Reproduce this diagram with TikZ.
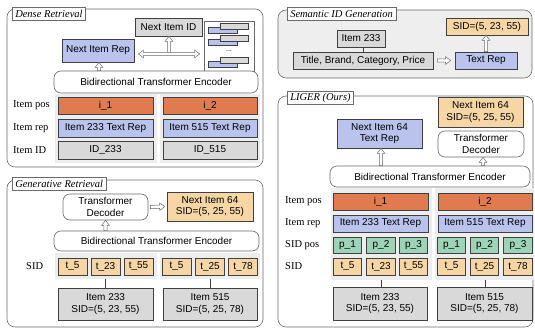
\documentclass[tikz,border=0pt]{standalone}
\usepackage{fontspec}
\setmainfont{Liberation Serif}
\setsansfont{Liberation Sans}
\usetikzlibrary{arrows.meta,calc}
\definecolor{posc}{HTML}{E07A4F}
\definecolor{repc}{HTML}{B9C3EE}
\definecolor{spc}{HTML}{9DD3B6}
\definecolor{sidc}{HTML}{F5D6A4}
\definecolor{idc}{HTML}{D9D9D9}
\definecolor{grpc}{HTML}{EDEDED}
\definecolor{panelfill}{HTML}{EEEEEE}
\definecolor{frame}{HTML}{6A6A6A}
\definecolor{edge}{HTML}{404040}
\tikzset{
  sz/.style 2 args={minimum width=#1, minimum height=#2},
  panel/.style={draw=frame, line width=0.6pt, rounded corners=8pt, inner sep=0pt},
  tag/.style={draw=frame, fill=white, line width=0.5pt, anchor=north west,
    font=\rmfamily\itshape\fontsize{10.5}{12}\selectfont, inner xsep=3pt, inner ysep=0pt, minimum height=13},
  blk/.style={draw=edge, line width=0.7pt, inner sep=0pt, align=center,
    font=\sffamily\fontsize{10}{11.5}\selectfont},
  rnd/.style={draw=frame, line width=0.6pt, fill=white, rounded corners=7pt, inner sep=0pt,
    align=center, font=\sffamily\fontsize{10}{11.5}\selectfont},
  grp/.style={fill=grpc, draw=none, inner sep=0pt},
  rowlab/.style={font=\rmfamily\fontsize{10.5}{12}\selectfont, anchor=west, inner sep=0pt},
  holshape/.style={draw=frame, line width=0.5pt, fill=white, line join=miter},
  tie/.style={draw=edge, line width=0.6pt},
}
% hollow block arrow from #1 to #2 (shaft half-width 1.6pt, head 3.8pt x 5pt)
\newcommand\holarrow[2]{%
  \coordinate (hh) at ($(#2)!5pt!(#1)$);
  \draw[holshape] ($(#1)!1.6pt!90:(#2)$) -- ($(hh)!1.6pt!-90:(#1)$) -- ($(hh)!3.8pt!-90:(#1)$)
    -- (#2) -- ($(hh)!3.8pt!90:(#1)$) -- ($(hh)!1.6pt!90:(#1)$) -- ($(#1)!1.6pt!-90:(#2)$) -- cycle;}
% hollow block arrow with heads at both ends
\newcommand\holboth[2]{%
  \coordinate (hh) at ($(#2)!5pt!(#1)$);
  \coordinate (ht) at ($(#1)!5pt!(#2)$);
  \draw[holshape] (#1) -- ($(ht)!3.8pt!90:(#2)$) -- ($(ht)!1.6pt!90:(#2)$)
    -- ($(hh)!1.6pt!-90:(#1)$) -- ($(hh)!3.8pt!-90:(#1)$) -- (#2)
    -- ($(hh)!3.8pt!90:(#1)$) -- ($(hh)!1.6pt!90:(#1)$)
    -- ($(ht)!1.6pt!-90:(#2)$) -- ($(ht)!3.8pt!-90:(#2)$) -- cycle;}
\begin{document}
\begin{tikzpicture}[x=1pt,y=-1pt]
\useasboundingbox (0,0) rectangle (535,329);

% ---------------- Dense Retrieval ----------------
\node[panel, sz={256}{158}] (dense) at (135,88) {};
\node[tag] (tdense) at (12,7) {Dense Retrieval};

\node[grp, sz={102}{69}] (dgl) at (106,128.5) {};
\node[grp, sz={100}{69}] (dgr) at (210,128.5) {};

\node[blk, fill=repc, sz={72}{23}] (dnir) at (98,50.5) {Next Item Rep};
\node[blk, fill=idc, sz={67}{18}] (dnid) at (168.5,27) {Next Item ID};
\node[draw=frame, line width=0.6pt, fill=white, sz={50}{50}, inner sep=0pt] (dcand) at (229,46) {};
\foreach \yy in {27,39,61} {
  \draw[draw=edge, line width=0.5pt, fill=repc] (208,\yy) rectangle (237,\yy+6);
  \draw[draw=edge, line width=0.5pt, fill=idc] (220,\yy-4) rectangle (248,\yy+2);
}
\node[font=\sffamily\scriptsize, inner sep=0pt] (ddots) at (229,51) {...};

\node[rnd, sz={204}{22}] (denc) at (156,82) {Bidirectional Transformer Encoder};

\node[blk, fill=posc, sz={95}{17}] (dp1) at (105.5,105.5) {i\_1};
\node[blk, fill=posc, sz={94}{17}] (dp2) at (210,105.5) {i\_2};
\node[blk, fill=repc, sz={95}{18}] (dr1) at (105.5,128) {Item 233 Text Rep};
\node[blk, fill=repc, sz={94}{18}] (dr2) at (210,128) {Item 515 Text Rep};
\node[blk, fill=idc, sz={95}{18}] (di1) at (105.5,150) {ID\_233};
\node[blk, fill=idc, sz={94}{18}] (di2) at (210,150) {ID\_515};

\node[rowlab] (dl1) at (13,105.5) {Item pos};
\node[rowlab] (dl2) at (13,128) {Item rep};
\node[rowlab] (dl3) at (13,150) {Item ID};

\coordinate (dda) at ([xshift=4pt,yshift=-3.5pt]dnir.east);
\coordinate (ddb) at ([xshift=-4pt,yshift=-8pt]dcand.west);
\coordinate (dmid) at (169,52.4);
\coordinate (dnidb) at (dmid |- dnid.south);
\holarrow{dmid}{dnidb}
\holboth{dda}{ddb}
\coordinate (dea) at (denc.north -| 99,0);
\coordinate (deb) at (dnir.south -| 99,0);
\holarrow{dea}{deb}

% ---------------- Generative Retrieval ----------------
\node[panel, sz={256}{147}] (gen) at (135,253.5) {};
\node[tag] (tgen) at (12,177) {Generative Retrieval};

\node[grp, sz={102}{26}] (ggl) at (106,266) {};
\node[grp, sz={100}{26}] (ggr) at (210,266) {};

\node[rnd, sz={85}{26}] (gdec) at (105.5,207) {Transformer\\Decoder};
\node[blk, fill=sidc, sz={86}{29}] (gnext) at (210,206.5) {Next Item 64\\SID=(5, 25, 55)};
\node[rnd, sz={205}{20}] (genc) at (156.5,241) {Bidirectional Transformer Encoder};

\node[blk, fill=sidc, sz={29}{17}] (gt1) at (72.5,266.5) {t\_5};
\node[blk, fill=sidc, sz={29}{17}] (gt2) at (105.5,266.5) {t\_23};
\node[blk, fill=sidc, sz={29}{17}] (gt3) at (138.5,266.5) {t\_55};
\node[blk, fill=sidc, sz={29}{17}] (gt4) at (176.5,266.5) {t\_5};
\node[blk, fill=sidc, sz={29}{17}] (gt5) at (210,266.5) {t\_25};
\node[blk, fill=sidc, sz={29}{17}] (gt6) at (243,266.5) {t\_78};
\node[rowlab] (gl1) at (26,266.5) {SID};

\node[blk, fill=idc, sz={95}{32}] (gi1) at (105.5,304) {Item 233\\SID=(5, 23, 55)};
\node[blk, fill=idc, sz={94}{32}] (gi2) at (210,304) {Item 515\\SID=(5, 25, 78)};

\draw[tie] (ggl.south -| gi1.north) -- (gi1.north);
\draw[tie] (ggr.south -| gi2.north) -- (gi2.north);
\coordinate (gda) at ([xshift=2pt]gdec.east);
\coordinate (gdb) at ([xshift=-2pt]gnext.west);
\holarrow{gda}{gdb}
\coordinate (gea) at (genc.north -| gdec.south);
\holarrow{gea}{gdec.south}

% ---------------- Semantic ID Generation ----------------
\node[panel, fill=panelfill, sz={254}{68}] (sem) at (405,44) {};
\node[tag] (tsem) at (287,7) {Semantic ID Generation};

\node[blk, fill=idc, sz={48}{17}] (sitem) at (361,38.5) {Item 233};
\node[blk, fill=idc, sz={140}{17}] (sattr) at (363,60.5) {Title, Brand, Category, Price};
\node[blk, fill=repc, sz={62}{17}] (strep) at (486,60.5) {Text Rep};
\node[blk, fill=sidc, sz={82}{17}] (ssid) at (487,26.5) {SID=(5, 23, 55)};

\draw[tie] (sattr.north) -- (sattr.north |- sitem.south);
\coordinate (saa) at ([xshift=4pt]sattr.east);
\coordinate (sab) at ([xshift=-4pt]strep.west);
\holarrow{saa}{sab}
\coordinate (ssb) at (strep.north |- ssid.south);
\holarrow{strep.north}{ssb}

% ---------------- LIGER ----------------
\node[panel, sz={255}{231}] (lig) at (405.5,211.5) {};
\node[tag] (tlig) at (287,91) {LIGER (Ours)};

\node[grp, sz={101}{92}] (lgl) at (381.5,234) {};
\node[grp, sz={99}{92}] (lgr) at (484.5,234) {};

\node[blk, fill=repc, sz={85}{29}] (lntr) at (379.5,133.5) {Next Item 64\\Text Rep};
\node[blk, fill=sidc, sz={85}{30}] (lnsid) at (480.5,112) {Next Item 64\\SID=(5, 25, 55)};
\node[rnd, sz={86}{26}] (ldec) at (481,144) {Transformer\\Decoder};
\node[rnd, sz={200}{21}] (lenc) at (430,176.5) {Bidirectional Transformer Encoder};

\node[blk, fill=posc, sz={95}{17}] (lp1) at (380.5,201.5) {i\_1};
\node[blk, fill=posc, sz={94}{17}] (lp2) at (485,201.5) {i\_2};
\node[blk, fill=repc, sz={95}{17}] (lr1) at (380.5,223.5) {Item 233 Text Rep};
\node[blk, fill=repc, sz={94}{17}] (lr2) at (485,223.5) {Item 515 Text Rep};

\node[blk, fill=spc, sz={28.5}{16}] (ls1) at (347.5,245.5) {p\_1};
\node[blk, fill=spc, sz={28.5}{16}] (ls2) at (381,245.5) {p\_2};
\node[blk, fill=spc, sz={28.5}{16}] (ls3) at (413.5,245.5) {p\_3};
\node[blk, fill=spc, sz={28.5}{16}] (ls4) at (451.5,245.5) {p\_1};
\node[blk, fill=spc, sz={28.5}{16}] (ls5) at (484.5,245.5) {p\_2};
\node[blk, fill=spc, sz={28.5}{16}] (ls6) at (518,245.5) {p\_3};

\node[blk, fill=sidc, sz={28.5}{17}] (lt1) at (347.5,266.5) {t\_5};
\node[blk, fill=sidc, sz={28.5}{17}] (lt2) at (381,266.5) {t\_23};
\node[blk, fill=sidc, sz={28.5}{17}] (lt3) at (413.5,266.5) {t\_55};
\node[blk, fill=sidc, sz={28.5}{17}] (lt4) at (451.5,266.5) {t\_5};
\node[blk, fill=sidc, sz={28.5}{17}] (lt5) at (484.5,266.5) {t\_25};
\node[blk, fill=sidc, sz={28.5}{17}] (lt6) at (518,266.5) {t\_78};

\node[rowlab] (ll1) at (285,201.5) {Item pos};
\node[rowlab] (ll2) at (285,223.5) {Item rep};
\node[rowlab] (ll3) at (285,245.5) {SID pos};
\node[rowlab] (ll4) at (285,266.5) {SID};

\node[blk, fill=idc, sz={94}{33}] (li1) at (380,303.5) {Item 233\\SID=(5, 23, 55)};
\node[blk, fill=idc, sz={95}{33}] (li2) at (484.5,303.5) {Item 515\\SID=(5, 25, 78)};

\draw[tie] (lgl.south -| 381,0) -- (li1.north -| 381,0);
\draw[tie] (lgr.south -| 485,0) -- (li2.north -| 485,0);
\coordinate (lea) at (lenc.north -| 381,0);
\coordinate (leb) at (lntr.south -| 381,0);
\holarrow{lea}{leb}
\coordinate (lec) at (lenc.north -| 483,0);
\coordinate (led) at (ldec.south -| 483,0);
\holarrow{lec}{led}
\end{tikzpicture}
\end{document}
